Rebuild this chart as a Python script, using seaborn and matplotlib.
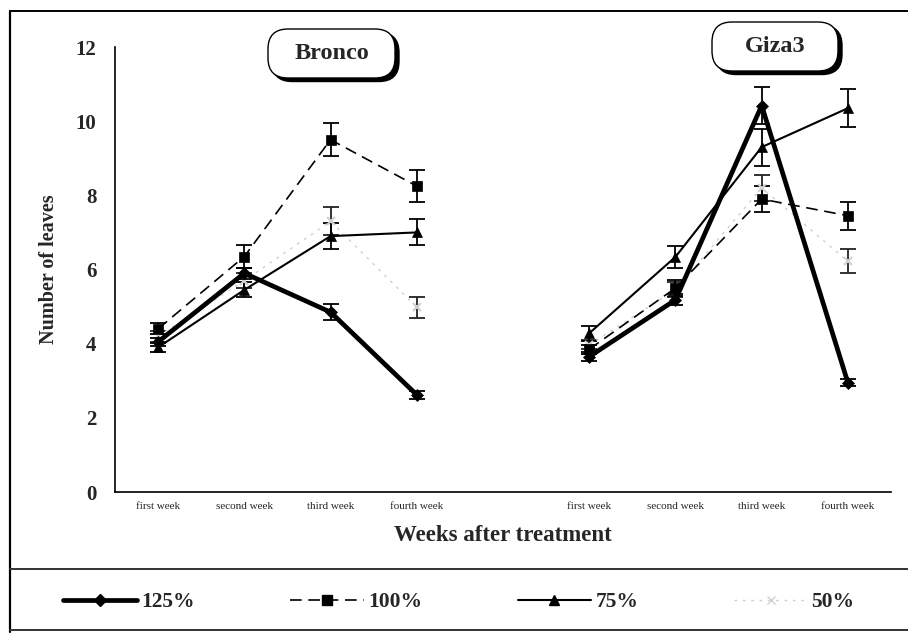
import numpy as np
import pandas as pd
import matplotlib
matplotlib.use("Agg")
import matplotlib.pyplot as plt
import seaborn as sns
from matplotlib.patches import FancyBboxPatch
from matplotlib.lines import Line2D

sns.set_style("white")
plt.rcParams['font.family'] = ['Liberation Serif', 'DejaVu Serif']

# ---------------- data ----------------
weeks = ["first week", "second week", "third week", "fourth week"]
varieties = ["Bronco", "Giza3"]
treatments = ["125%", "100%", "75%", "50%"]

bronco_125 = [4.05, 5.90, 4.85, 2.62]
bronco_100 = [4.40, 6.35, 9.50, 8.25]
bronco_75 = [3.90, 5.45, 6.90, 7.00]
bronco_50 = [4.20, 5.70, 7.30, 4.98]

bronco_125_err = [0.10, 0.15, 0.22, 0.10]
bronco_100_err = [0.15, 0.30, 0.45, 0.42]
bronco_75_err = [0.12, 0.20, 0.35, 0.35]
bronco_50_err = [0.15, 0.20, 0.38, 0.28]

giza_125 = [3.65, 5.18, 10.42, 2.95]
giza_100 = [3.85, 5.50, 7.90, 7.45]
giza_75 = [4.28, 6.34, 9.30, 10.35]
giza_50 = [3.97, 5.45, 8.20, 6.22]

giza_125_err = [0.12, 0.15, 0.50, 0.10]
giza_100_err = [0.12, 0.22, 0.35, 0.38]
giza_75_err = [0.20, 0.30, 0.50, 0.52]
giza_50_err = [0.12, 0.20, 0.35, 0.32]

tick_labels = weeks + [""] + weeks

values = {
    ("Bronco", "125%"): (bronco_125, bronco_125_err),
    ("Bronco", "100%"): (bronco_100, bronco_100_err),
    ("Bronco", "75%"): (bronco_75, bronco_75_err),
    ("Bronco", "50%"): (bronco_50, bronco_50_err),
    ("Giza3", "125%"): (giza_125, giza_125_err),
    ("Giza3", "100%"): (giza_100, giza_100_err),
    ("Giza3", "75%"): (giza_75, giza_75_err),
    ("Giza3", "50%"): (giza_50, giza_50_err),
}

rows = []
for v_i, var in enumerate(varieties):
    for trt in treatments:
        vals, errs = values[(var, trt)]
        for w_i, wk in enumerate(weeks):
            rows.append(dict(variety=var, treatment=trt, week=wk,
                             pos=w_i + 5 * v_i, value=vals[w_i], err=errs[w_i]))
df = pd.DataFrame(rows)

styles = {
    "125%": dict(color="black", lw=3.4, marker="D", ms=6, dashes=None, z=5),
    "100%": dict(color="black", lw=1.2, marker="s", ms=6.5, dashes=(7, 4), z=4),
    "75%": dict(color="black", lw=1.5, marker="^", ms=7, dashes=None, z=4),
    "50%": dict(color="#d0d0d0", lw=1.0, marker="x", ms=6, dashes=(2, 4), z=3),
}

# ---------------- figure ----------------
W, H = 908, 638
fig = plt.figure(figsize=(W / 100, H / 100), dpi=100)
ax = fig.add_axes([115 / W, 1 - 492 / H, (891 - 115) / W, (492 - 47) / H])

for var in varieties:
    for trt in treatments:
        st = styles[trt]
        sub = df[(df.variety == var) & (df.treatment == trt)]
        ecol = "black" if trt != "50%" else "#222222"
        ax.errorbar(sub.pos, sub.value, yerr=sub.err, fmt="none", ecolor=ecol,
                    elinewidth=1.3, capsize=6, capthick=1.3, zorder=st["z"] - 1)
        sns.lineplot(data=sub, x="pos", y="value", ax=ax, color=st["color"],
                     linewidth=st["lw"], marker=st["marker"], markersize=st["ms"],
                     markeredgecolor=st["color"], markerfacecolor=st["color"],
                     markeredgewidth=1.5 if trt == "50%" else 0.5,
                     errorbar=None, zorder=st["z"], legend=False)
        if st["dashes"] is not None:
            ax.lines[-1].set_dashes(st["dashes"])

ax.set_xlim(-0.5, 8.5)
ax.set_ylim(0, 12)
ax.set_yticks(np.arange(0, 13, 2))
ax.set_yticklabels([str(t) for t in range(0, 13, 2)], fontsize=15, fontweight="bold")
ax.set_xticks(np.arange(9))
ax.set_xticklabels(tick_labels, fontsize=8)
ax.set_xticks(np.arange(-0.5, 9, 1), minor=True)
ax.tick_params(axis="x", which="major", length=0, pad=7)
ax.tick_params(axis="x", which="minor", length=7, width=1, direction="inout", color="black")
ax.tick_params(axis="y", length=9, width=1, direction="inout", color="black", pad=9)
for s in ["top", "right"]:
    ax.spines[s].set_visible(False)
for s in ["left", "bottom"]:
    ax.spines[s].set_color("black")
    ax.spines[s].set_linewidth(1.2)
ax.set_xlabel("Weeks after treatment", fontsize=16.5, fontweight="bold", labelpad=10)
ax.set_ylabel("Number of leaves", fontsize=14.5, fontweight="bold", labelpad=12)
ax.patch.set_alpha(0)

# ---------------- variety labels (pill boxes with shadow) ----------------
def pill(x0, y0, x1, y1, label):
    w, h = (x1 - x0) / 100, (y1 - y0) / 100
    xi, yi = x0 / 100, (H - y1) / 100
    sh = FancyBboxPatch((xi + 0.04, yi - 0.035), w, h,
                        boxstyle="round,pad=0,rounding_size=0.2",
                        transform=fig.dpi_scale_trans, fc="black", ec="black", zorder=1)
    bx = FancyBboxPatch((xi, yi), w, h, boxstyle="round,pad=0,rounding_size=0.2",
                        transform=fig.dpi_scale_trans, fc="white", ec="black",
                        lw=1.0, zorder=2)
    fig.patches.extend([sh, bx])
    fig.text((x0 + x1) / 2 / W, 1 - (y0 + y1) / 2 / H, label, ha="center", va="center",
             fontsize=17.5, fontweight="bold", zorder=3)

pill(268, 29, 395, 78, "Bronco")
pill(712, 22, 838, 71, "Giza3")

# ---------------- outer frame and legend strip ----------------
fig.add_artist(Line2D([10 / W, 10 / W], [1 - 11 / H, 1 - 632 / H], color="black", lw=1.6,
                      transform=fig.transFigure))
fig.add_artist(Line2D([10 / W, 1], [1 - 11 / H, 1 - 11 / H], color="black", lw=1.4,
                      transform=fig.transFigure))
fig.add_artist(Line2D([10 / W, 1], [1 - 569 / H, 1 - 569 / H], color="#333333", lw=1.4,
                      transform=fig.transFigure))
fig.add_artist(Line2D([10 / W, 1], [1 - 630 / H, 1 - 630 / H], color="#333333", lw=1.4,
                      transform=fig.transFigure))

handles = []
for trt in treatments:
    st = styles[trt]
    ln = Line2D([], [], color=st["color"], lw=st["lw"], marker=st["marker"],
                ms=st["ms"], mfc=st["color"], mec=st["color"])
    if st["dashes"] is not None:
        ln.set_dashes(st["dashes"])
    handles.append(ln)
fig.legend(handles, treatments, loc="center", ncol=4, frameon=False,
           bbox_to_anchor=(44 / W, 1 - 620 / H, 830 / W, 36 / H), mode="expand",
           prop=dict(family="Liberation Serif", weight="bold", size=15.5),
           handlelength=3.4, handletextpad=0.2, numpoints=1)

fig.savefig("out.png", dpi=100)
